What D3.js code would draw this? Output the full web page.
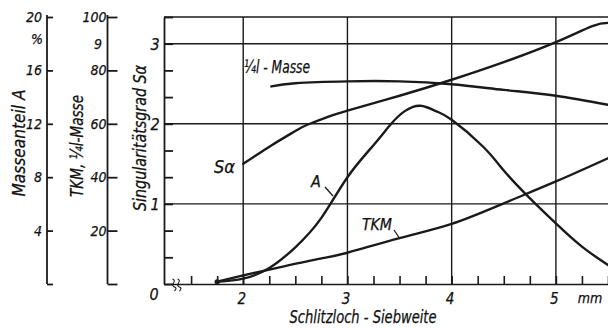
<!DOCTYPE html>
<html><head><meta charset="utf-8">
<script src="https://cdn.jsdelivr.net/npm/d3@7"></script>
<style>
html,body{margin:0;padding:0;background:#fff;}
svg{display:block;}
text{font-family:"DejaVu Sans",sans-serif;font-style:italic;font-stretch:condensed;fill:#111;stroke:#111;stroke-width:0.25px;}
</style></head>
<body>
<svg id="chart" width="608" height="329"></svg>
<script>
// ---- data ----
const sAlphaX = [2, 2.27, 2.5, 2.61, 2.81, 3, 3.5, 4, 4.5, 5, 5.35, 5.5];
const sAlphaY = [1.50, 1.73, 1.91, 1.985, 2.085, 2.165, 2.35, 2.55, 2.77, 3.02, 3.22, 3.26];

const quarterX = [2.27, 2.5, 3, 3.5, 4, 4.5, 5, 5.5];
const quarterY = [74.0, 75.2, 75.9, 75.9, 74.8, 72.7, 70.5, 67.1];

const aX = [1.75, 2, 2.25, 2.5, 2.75, 3, 3.25, 3.42, 3.55, 3.7, 3.85, 4, 4.3, 4.5, 4.72, 5, 5.25, 5.5];
const aY = [0.17, 0.4, 1.2, 2.75, 4.95, 8.0, 10.4, 12.0, 12.95, 13.35, 12.95, 12.3, 10.3, 8.5, 6.66, 4.54, 2.8, 1.42];

const tkmX = [1.75, 2, 2.39, 2.74, 3, 3.5, 4, 4.5, 5, 5.5];
const tkmY = [0.9, 3.2, 6.6, 9.5, 11.7, 17.2, 22.5, 30.2, 38.4, 47.1];

const xTickLabels = [2, 3, 4, 5];
const sAlphaTickLabels = [1, 2, 3];
const aTickLabels = [4, 8, 12, 16, 20];
const tkmTickLabels = [20, 40, 60, 80, 100];

// ---- scales ----
const svg = d3.select("#chart");
const X0 = 164, X1 = 608, Y0 = 284, Y1 = 17;
const x = d3.scaleLinear().domain([1.24, 5.5]).range([X0, X1]);
const ySa = d3.scaleLinear().domain([0, 10/3]).range([Y0, Y1]);
const yA = d3.scaleLinear().domain([0, 20]).range([Y0, Y1]);
const yT = d3.scaleLinear().domain([0, 100]).range([Y0, Y1]);
const ink = "#1a1a1a";

// ---- grid & frame ----
const g = svg.append("g");
g.selectAll(".vg").data(xTickLabels).enter().append("line")
  .attr("x1", d => x(d)).attr("x2", d => x(d)).attr("y1", Y1).attr("y2", Y0)
  .attr("stroke", ink).attr("stroke-width", 1.4);
g.selectAll(".hg").data(sAlphaTickLabels).enter().append("line")
  .attr("x1", X0).attr("x2", X1).attr("y1", d => ySa(d)).attr("y2", d => ySa(d))
  .attr("stroke", ink).attr("stroke-width", 1.4);
g.append("line").attr("x1", X0).attr("x2", X1).attr("y1", Y1).attr("y2", Y1)
  .attr("stroke", ink).attr("stroke-width", 1.6);

// Sα axis (minor ticks inward)
const saTicks = d3.range(0, 11).map(i => i / 3);
const saAxis = d3.axisLeft(ySa).tickValues(saTicks).tickSizeInner(-9).tickSizeOuter(0).tickFormat("");
const gSa = svg.append("g").attr("transform", `translate(${X0},0)`).call(saAxis);
gSa.selectAll("path,line").attr("stroke", ink).attr("stroke-width", 1.8);
svg.selectAll(".saLab").data(sAlphaTickLabels).enter().append("text")
  .attr("x", 155).attr("y", d => ySa(d) + 6).attr("text-anchor", "middle")
  .attr("font-size", 16).text(d => d);
svg.append("text").attr("x", 154).attr("y", 300).attr("text-anchor", "middle")
  .attr("font-size", 16).text("0");

// X axis
const xAxis = d3.axisBottom(x).tickValues(d3.range(1.5, 5.51, 0.25)).tickSizeInner(-8).tickSizeOuter(0)
  .tickPadding(9).tickFormat(d => xTickLabels.includes(d) ? d : "");
const gX = svg.append("g").attr("transform", `translate(0,${Y0})`).call(xAxis);
gX.selectAll("path,line").attr("stroke", ink).attr("stroke-width", 1.6);
gX.selectAll("text").attr("font-size", 15).attr("fill", "#111")
  .attr("font-family", "DejaVu Sans").attr("dx", -2);
svg.append("text").attr("x", 590).attr("y", 303).attr("text-anchor", "middle")
  .attr("font-size", 14).text("mm");
svg.append("text").attr("x", 363).attr("y", 323).attr("text-anchor", "middle")
  .attr("font-size", 17).attr("textLength", 147).attr("lengthAdjust", "spacingAndGlyphs")
  .text("Schlitzloch - Siebweite");

// axis break symbol
[173.5, 178.5].forEach(bx => {
  svg.append("path")
    .attr("d", `M${bx - 1},${Y0 - 5} q3,1 1,4 q-2,3 1,4 q3,1 0,4`)
    .attr("fill", "none").attr("stroke", ink).attr("stroke-width", 1.1);
});

// A axis (left)
const aAxis = d3.axisLeft(yA).tickValues([0, ...aTickLabels]).tickSizeInner(-6).tickSizeOuter(0)
  .tickPadding(5).tickFormat(d => d === 0 ? "" : d);
const gA = svg.append("g").attr("transform", "translate(47,0)").call(aAxis);
gA.select(".domain").attr("d", `M0,15V${Y0}`);
gA.selectAll("path,line").attr("stroke", ink).attr("stroke-width", 1.8);
gA.selectAll("text").attr("font-size", 14).attr("fill", "#111").attr("font-family", "DejaVu Sans");
svg.append("text").attr("x", 37).attr("y", 44).attr("text-anchor", "middle")
  .attr("font-size", 14).text("%");

// TKM axis (left)
const tAxis = d3.axisLeft(yT).tickValues([0, ...tkmTickLabels]).tickSizeInner(-10).tickSizeOuter(0)
  .tickPadding(1).tickFormat(d => d === 0 ? "" : d);
const gT = svg.append("g").attr("transform", "translate(107.5,0)").call(tAxis);
gT.select(".domain").attr("d", `M0,15V${Y0}`);
gT.selectAll("path,line").attr("stroke", ink).attr("stroke-width", 1.8);
gT.selectAll("text").attr("font-size", 14).attr("fill", "#111").attr("font-family", "DejaVu Sans");
svg.append("text").attr("x", 98).attr("y", yT(90) + 5).attr("text-anchor", "middle")
  .attr("font-size", 14).text("9");

// rotated axis titles
function vtitle(cx, cy, len, size, txt) {
  svg.append("text").attr("transform", `translate(${cx},${cy}) rotate(-90)`)
    .attr("text-anchor", "middle").attr("dominant-baseline", "central")
    .attr("font-size", size).attr("textLength", len).attr("lengthAdjust", "spacingAndGlyphs")
    .text(txt);
}
vtitle(18, 143, 107, 18, "Masseanteil A");
vtitle(76, 146, 102, 18, "TKM, ¼l-Masse");
vtitle(140, 138, 146, 17, "Singularitätsgrad Sα");

// ---- curves ----
const curve = d3.curveNatural;
function drawSeries(xs, ys, yScale) {
  const pts = xs.map((v, i) => [x(v), yScale(ys[i])]);
  svg.append("path").attr("d", d3.line().curve(curve)(pts))
    .attr("fill", "none").attr("stroke", ink).attr("stroke-width", 2.4)
    .attr("stroke-linecap", "round");
}
drawSeries(sAlphaX, sAlphaY, ySa);
drawSeries(quarterX, quarterY, yT);
drawSeries(aX, aY, yA);
drawSeries(tkmX, tkmY, yT);
svg.append("circle").attr("cx", x(aX[0])).attr("cy", yA(aY[0])).attr("r", 2.6).attr("fill", ink);

// ---- curve labels ----
svg.append("text").attr("x", 244).attr("y", 73).attr("font-size", 17)
  .attr("textLength", 66).attr("lengthAdjust", "spacingAndGlyphs").text("¼l - Masse");
svg.append("text").attr("x", 214).attr("y", 173).attr("font-size", 18).text("Sα");
svg.append("text").attr("x", 311).attr("y", 187).attr("font-size", 16).text("A");
svg.append("line").attr("x1", 325).attr("y1", 187).attr("x2", 333).attr("y2", 196)
  .attr("stroke", ink).attr("stroke-width", 1.3);
svg.append("text").attr("x", 362).attr("y", 230).attr("font-size", 15)
  .attr("textLength", 30).attr("lengthAdjust", "spacingAndGlyphs").text("TKM");
svg.append("line").attr("x1", 394).attr("y1", 230).attr("x2", 400).attr("y2", 239)
  .attr("stroke", ink).attr("stroke-width", 1.3);
</script>
</body></html>
